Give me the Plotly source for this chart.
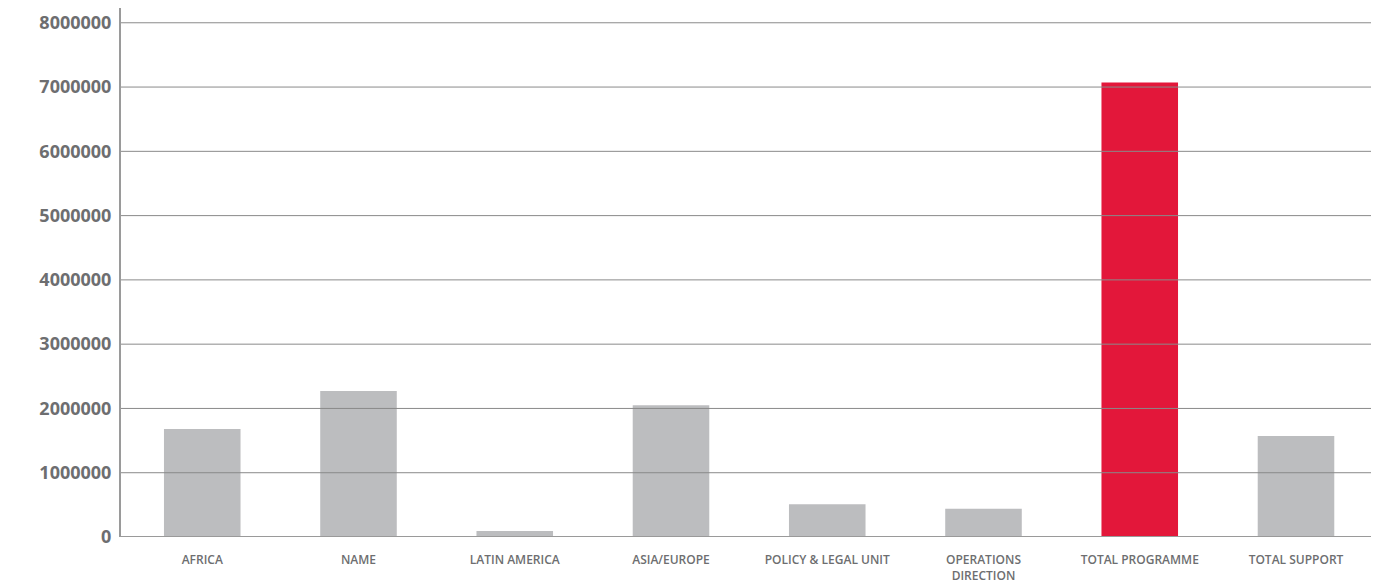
import plotly.graph_objects as go

categories = ["AFRICA", "NAME", "LATIN AMERICA", "ASIA/EUROPE", "POLICY & LEGAL UNIT",
              "OPERATIONS<br>DIRECTION", "TOTAL PROGRAMME", "TOTAL SUPPORT"]
values = [1680000, 2270000, 95000, 2050000, 510000, 440000, 7070000, 1570000]
bar_colors = ["#bcbdbf", "#bcbdbf", "#bcbdbf", "#bcbdbf", "#bcbdbf", "#bcbdbf", "#e3173a", "#bcbdbf"]
y_ticks = [0, 1000000, 2000000, 3000000, 4000000, 5000000, 6000000, 7000000, 8000000]

fig = go.Figure(go.Bar(x=categories, y=values, marker=dict(color=bar_colors, line=dict(width=0))))

shapes = []
for v in y_ticks[1:]:
    shapes.append(dict(type="line", xref="paper", yref="y", x0=0, x1=1, y0=v, y1=v,
                       line=dict(color="#8a8a8a", width=1), layer="above"))
shapes.append(dict(type="line", xref="paper", yref="y", x0=0, x1=1, y0=0, y1=0,
                   line=dict(color="#9a9a9a", width=2), layer="above"))

# page body adds an 8px offset, so the figure is sized/margined to compensate
fig.update_layout(
    width=1381, height=576,
    margin=dict(l=113, r=18, t=0, b=47, autoexpand=False),
    plot_bgcolor="white", paper_bgcolor="white",
    bargap=0.51,
    showlegend=False,
    shapes=shapes,
    xaxis=dict(showgrid=False, showline=False, ticks="", ticklabelstandoff=14,
               range=[-0.52, 7.48],
               tickfont=dict(family="Open Sans", size=12, color="#6d6e70", weight=600)),
    yaxis=dict(range=[0, 8230000], tickvals=y_ticks, ticktext=[str(v) for v in y_ticks],
               showgrid=False, zeroline=False, showline=True, linecolor="#9a9a9a", linewidth=2,
               ticks="", ticklabelstandoff=4,
               tickfont=dict(family="Open Sans", size=18, color="#6d6e70", weight="bold")),
)

fig.write_html("out.html")
